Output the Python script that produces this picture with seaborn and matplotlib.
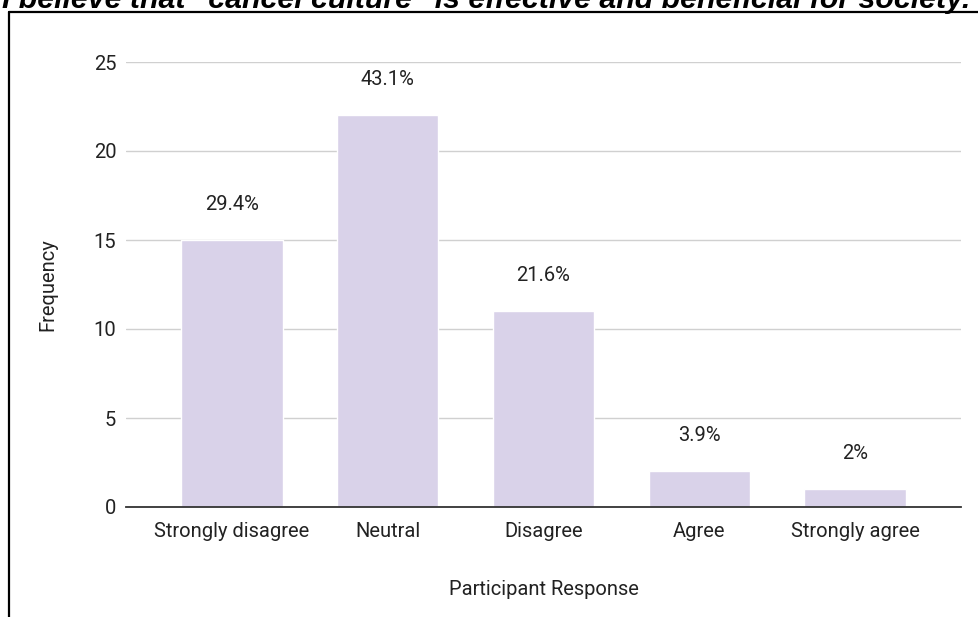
import matplotlib
matplotlib.use("Agg")
import matplotlib.pyplot as plt
from matplotlib.lines import Line2D
import seaborn as sns
import pandas as pd

# Survey responses
responses = ["Strongly disagree", "Neutral", "Disagree", "Agree", "Strongly agree"]
counts = [15, 22, 11, 2, 1]
y_ticks = [0, 5, 10, 15, 20, 25]

title = 'I believe that "cancel culture" is effective and beneficial for society.'

sns.set_theme(style="white")
plt.rcParams["font.family"] = ["Roboto", "DejaVu Sans"]

BAR = "#d9d2e9"
TXT = "#222222"
FS = 14.5

df = pd.DataFrame({"response": responses, "count": counts})
total = sum(counts)

fig = plt.figure(figsize=(9.79, 6.17), dpi=100)
ax = fig.add_axes([126 / 979, 1 - 507 / 617, (961 - 126) / 979, (507 - 62) / 617])

sns.barplot(data=df, x="response", y="count", color=BAR, saturation=1,
            width=0.65, ax=ax, zorder=2)

ax.set_xlim(-0.68, 4.68)
ax.set_ylim(0, 25)
ax.set_yticks(y_ticks)
ax.grid(axis="y", color="#d0d0d0", linewidth=1.0, zorder=0)
ax.grid(axis="x", visible=False)
for s in ["top", "right", "left"]:
    ax.spines[s].set_visible(False)
ax.spines["bottom"].set_color("#333333")
ax.spines["bottom"].set_linewidth(1.3)
ax.spines["bottom"].set_zorder(3)
ax.tick_params(axis="both", length=0, labelsize=FS, colors=TXT)
ax.tick_params(axis="y", pad=7)
ax.tick_params(axis="x", pad=11)

ax.set_xlabel("Participant Response", fontsize=FS, color=TXT, labelpad=28)
ax.set_ylabel("Frequency", fontsize=FS, color=TXT, labelpad=26)

# Percentage of all responses above each bar
for i, c in enumerate(counts):
    pct = round(100 * c / total, 1)
    ax.annotate(f"{pct:g}%", xy=(i, c), xytext=(0, 25.5), textcoords="offset points",
                ha="center", va="center", fontsize=FS, color=TXT)

# Question heading and frame
fig.text(0.002, 1 - 8 / 617, title, ha="left", va="baseline", fontsize=21.8,
         style="italic", fontweight="bold", family="Liberation Sans", color="black")
fig.add_artist(Line2D([9 / 979, 1], [1 - 12 / 617, 1 - 12 / 617], color="black",
                      linewidth=1.6, transform=fig.transFigure))
fig.add_artist(Line2D([9 / 979, 9 / 979], [0, 1 - 12 / 617], color="black",
                      linewidth=1.6, transform=fig.transFigure))

fig.savefig("out.png", dpi=100, facecolor="white")
